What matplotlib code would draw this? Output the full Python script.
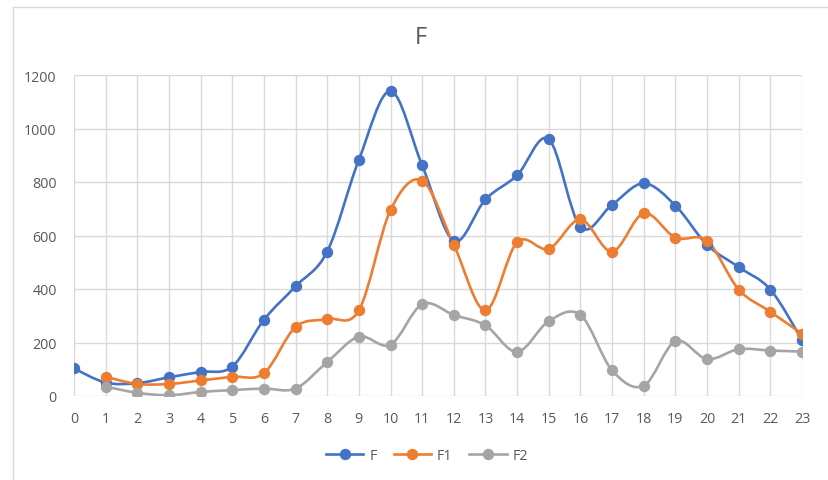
import numpy as np
import matplotlib
matplotlib.use("Agg")
import matplotlib.pyplot as plt
from matplotlib.path import Path
from matplotlib.patches import PathPatch
from matplotlib.lines import Line2D

# data
hours = list(range(24))
f_vals = [103, 50, 48, 70, 90, 110, 285, 410, 540, 883, 1140, 862,
          580, 735, 825, 960, 632, 715, 795, 712, 565, 482, 398, 210]
f1_vals = [72, 45, 45, 58, 72, 85, 258, 288, 320, 695, 805,
           565, 320, 575, 550, 660, 540, 683, 592, 580, 398, 315, 233]
f2_vals = [35, 12, 3, 15, 22, 28, 28, 127, 222, 192, 343,
           303, 264, 165, 280, 303, 96, 38, 205, 138, 175, 170, 166]

series = [
    ("F", hours, f_vals, "#4472C4"),
    ("F1", hours[1:], f1_vals, "#ED7D31"),
    ("F2", hours[1:], f2_vals, "#A5A5A5"),
]

plt.rcParams['font.family'] = ['Open Sans', 'DejaVu Sans']


def smooth_path(x, y):
    # bezier path through the points, like excel's smoothed line
    x = np.asarray(x, float)
    y = np.asarray(y, float)
    n = len(x)
    verts = [(x[0], y[0])]
    codes = [Path.MOVETO]
    for i in range(n - 1):
        p0 = (x[max(i - 1, 0)], y[max(i - 1, 0)])
        p1 = (x[i], y[i])
        p2 = (x[i + 1], y[i + 1])
        p3 = (x[min(i + 2, n - 1)], y[min(i + 2, n - 1)])
        c1 = (p1[0] + (p2[0] - p0[0]) / 6, p1[1] + (p2[1] - p0[1]) / 6)
        c2 = (p2[0] - (p3[0] - p1[0]) / 6, p2[1] - (p3[1] - p1[1]) / 6)
        verts += [c1, c2, p2]
        codes += [Path.CURVE4] * 3
    return Path(verts, codes)


fig = plt.figure(figsize=(8.29, 4.81), dpi=100)
ax = fig.add_axes([74 / 829, 84 / 481, 728 / 829, 321 / 481])

for name, xs, ys, col in series:
    patch = PathPatch(smooth_path(xs, ys), facecolor="none", edgecolor=col,
                      lw=1.9, capstyle="round", joinstyle="round", zorder=3)
    ax.add_patch(patch)
    ax.plot(xs, ys, linestyle="none", marker="o", ms=7.2, color=col, zorder=4)

ax.set_xlim(0, 23)
ax.set_ylim(0, 1200)
ax.set_xticks(hours)
ax.set_yticks(range(0, 1201, 200))
ax.grid(True, color="#d9d9d9", lw=1)
ax.set_axisbelow(True)
for s in ax.spines.values():
    s.set_visible(False)
ax.tick_params(length=0, labelsize=10.3, labelcolor="#595959")
ax.tick_params(axis="y", pad=12.5)
ax.tick_params(axis="x", pad=11)

fig.text(421 / 829, 1 - 38 / 481, "F", ha="center", va="center",
         fontsize=17, color="#595959")

handles = [Line2D([], [], color=c, lw=1.9, marker="o", ms=7.2) for _, _, _, c in series]
leg = fig.legend(handles, [s[0] for s in series], loc="center",
                 bbox_to_anchor=(427 / 829, 1 - 457 / 481), ncol=3, frameon=False,
                 fontsize=10.3, handlelength=2.6, columnspacing=1.2, handletextpad=0.4)
for t in leg.get_texts():
    t.set_color("#595959")

# chart area border (left and top edge visible)
fig.add_artist(Line2D([13 / 829, 13 / 829], [0, 1 - 8 / 481], color="#d9d9d9", lw=1))
fig.add_artist(Line2D([13 / 829, 1], [1 - 8 / 481, 1 - 8 / 481], color="#d9d9d9", lw=1))

fig.savefig("out.png", dpi=100)
